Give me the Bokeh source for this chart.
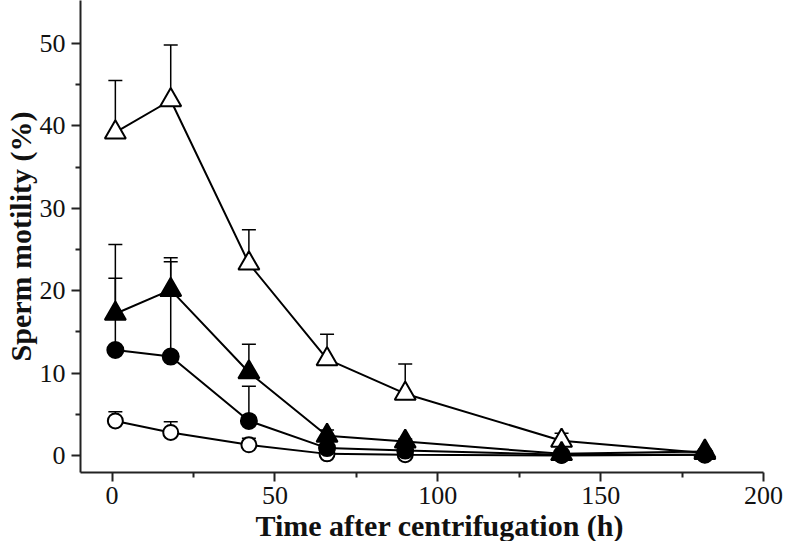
from bokeh.plotting import figure
from bokeh.models import ColumnDataSource, Whisker, TeeHead, Range1d, FixedTicker, Title
from bokeh.embed import file_html
from bokeh.resources import INLINE

# ---- data ----
hours = [1, 18, 42, 66, 90, 138, 182]

open_tri = [39.2, 43.1, 23.3, 11.7, 7.5, 1.8, 0.3]
open_tri_sd = [6.3, 6.7, 4.1, 3.0, 3.6, 0.9, 0.0]

filled_tri = [17.2, 20.1, 10.1, 2.4, 1.7, 0.2, 0.5]
filled_tri_sd = [8.4, 3.4, 3.4, 0.7, 0.3, 0.0, 0.0]

filled_circ = [12.8, 12.0, 4.2, 0.9, 0.6, 0.1, 0.1]
filled_circ_sd = [8.7, 12.0, 4.2, 0.3, 0.2, 0.0, 0.0]

open_circ = [4.2, 2.8, 1.3, 0.2, 0.1, 0.0, 0.1]
open_circ_sd = [1.1, 1.3, 0.8, 0.2, 0.1, 0.0, 0.0]

x_ticks = [0, 50, 100, 150, 200]
y_ticks = [0, 10, 20, 30, 40, 50]

FONT = "Liberation Serif"

p = figure(width=784, height=541, output_backend="svg", toolbar_location=None,
           x_range=Range1d(-9.7, 200), y_range=Range1d(-2.06, 55.2),
           min_border_left=72, min_border_right=21, min_border_top=0, min_border_bottom=69)
p.outline_line_color = None
p.grid.grid_line_color = None
p.background_fill_color = "white"

# axes styling
for ax in (p.xaxis[0], p.yaxis[0]):
    ax.axis_line_color = "#222222"
    ax.axis_line_width = 2
    ax.major_tick_line_color = "#222222"
    ax.major_tick_line_width = 2
    ax.minor_tick_line_color = "#222222"
    ax.minor_tick_line_width = 2
    ax.major_tick_in = 0
    ax.major_tick_out = 9
    ax.minor_tick_in = 0
    ax.minor_tick_out = 5
    ax.major_label_text_font = FONT
    ax.major_label_text_font_size = "26px"
    ax.major_label_text_color = "#111111"

p.xaxis[0].ticker = FixedTicker(ticks=x_ticks, minor_ticks=[25, 75, 125, 175])
p.yaxis[0].ticker = FixedTicker(ticks=y_ticks, minor_ticks=[5, 15, 25, 35, 45])
p.xaxis[0].major_label_standoff = 5
p.yaxis[0].major_label_standoff = 6

p.yaxis[0].axis_label = "Sperm motility (%)"
p.yaxis[0].axis_label_text_font = FONT
p.yaxis[0].axis_label_text_font_style = "bold"
p.yaxis[0].axis_label_text_font_size = "30px"
p.yaxis[0].axis_label_text_color = "#111111"
p.yaxis[0].axis_label_standoff = 0

p.add_layout(Title(text="Time after centrifugation (h)", align="left", offset=175,
                   text_font=FONT, text_font_style="bold", text_font_size="30px",
                   text_color="#111111", standoff=0), "below")

series = [
    (open_tri, open_tri_sd, "triangle", "white", 21),
    (open_circ, open_circ_sd, "circle", "white", 15),
    (filled_circ, filled_circ_sd, "circle", "black", 16),
    (filled_tri, filled_tri_sd, "triangle", "black", 21),
]

# lines
for vals, sd, m, fill, size in series:
    p.line(hours, vals, line_color="black", line_width=2)

# error bars (upper only)
for vals, sd, m, fill, size in series:
    xs = [h for h, s in zip(hours, sd) if s > 0]
    lo = [v for v, s in zip(vals, sd) if s > 0]
    up = [v + s for v, s in zip(vals, sd) if s > 0]
    src = ColumnDataSource(dict(x=xs, lower=lo, upper=up))
    w = Whisker(source=src, base="x", lower="lower", upper="upper", dimension="height",
                line_color="black", line_width=1.5,
                upper_head=TeeHead(size=14, line_color="black", line_width=1.5),
                lower_head=None)
    p.add_layout(w)

# markers
for vals, sd, m, fill, size in series:
    p.scatter(hours, vals, marker=m, size=size, fill_color=fill,
              line_color="black", line_width=2)

open("out.html", "w").write(file_html(p, INLINE))
